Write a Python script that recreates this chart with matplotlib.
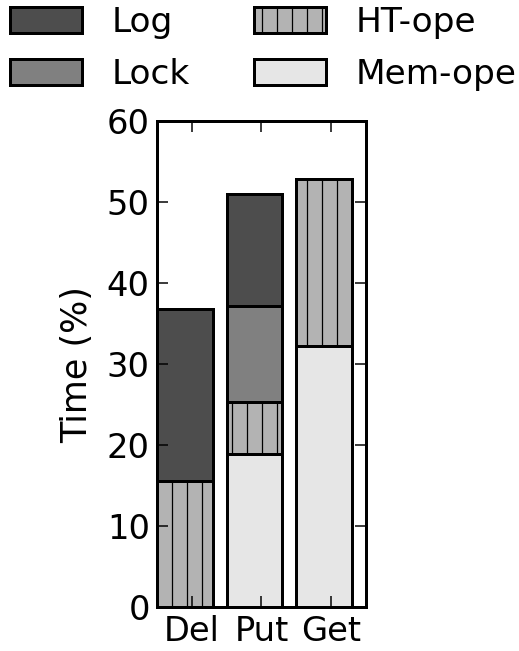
import matplotlib
matplotlib.use("Agg")
import matplotlib.pyplot as plt
import numpy as np

categories = ["Del", "Put", "Get"]
mem_ope = [0.0, 18.9, 32.2]
ht_ope = [15.55, 6.45, 20.65]
lock = [0.0, 11.85, 0.0]
log = [21.25, 13.7, 0.0]

series = [
    ("Mem-ope", mem_ope, "#e6e6e6", ""),
    ("HT-ope", ht_ope, "#b3b3b3", "|"),
    ("Lock", lock, "#808080", ""),
    ("Log", log, "#4d4d4d", ""),
]

plt.rcParams["font.family"] = "DejaVu Sans"
plt.rcParams["hatch.linewidth"] = 1.0

dpi = 90
fig = plt.figure(figsize=(519 / dpi, 651 / dpi), dpi=dpi)
ax = fig.add_axes([0.303, 0.0671, 0.4016, 0.7475])

x = np.arange(len(categories))
bottom = np.zeros(len(categories))
handles = {}
for name, vals, color, hatch in series:
    vals = np.array(vals)
    bars = ax.bar(x, vals, width=0.8, bottom=bottom, align="edge",
                  color=color, edgecolor="black", linewidth=2.4, hatch=hatch)
    handles[name] = bars
    bottom = bottom + vals

ax.set_xlim(0, 3)
ax.set_ylim(0, 60)
ax.set_xticks(x + 0.5)
ax.set_xticklabels(categories)
ax.set_yticks(np.arange(0, 61, 10))
ax.set_ylabel("Time (%)", fontsize=28, labelpad=10)
ax.tick_params(axis="both", direction="in", length=9, width=1.2,
               labelsize=27, top=True, right=True, pad=6)
for s in ax.spines.values():
    s.set_linewidth(2.4)

order = ["Log", "Lock", "HT-ope", "Mem-ope"]
fig.legend([handles[n] for n in order], order, loc="upper left",
           bbox_to_anchor=(0.012, 0.996), ncol=2, frameon=False, fontsize=27.5,
           handlelength=2.1, handleheight=0.75, handletextpad=0.87,
           columnspacing=1.85, labelspacing=0.55, borderpad=0.1,
           borderaxespad=0.0)

fig.savefig("out.png", dpi=dpi)
